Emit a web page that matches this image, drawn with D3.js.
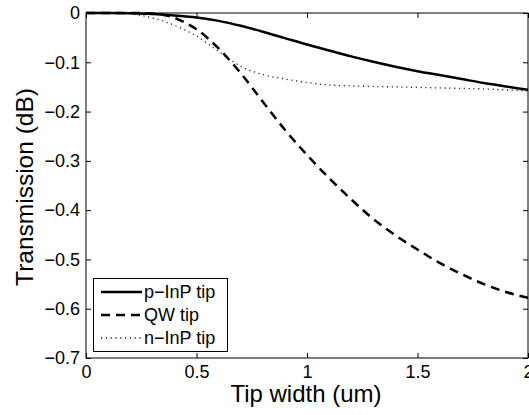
<!DOCTYPE html>
<html>
<head>
<meta charset="utf-8">
<script src="https://cdn.jsdelivr.net/npm/d3@7"></script>
<style>
  html, body { margin: 0; padding: 0; background: #fff; }
  svg { display: block; }
  text { font-family: "Liberation Sans", Arial, Helvetica, sans-serif; fill: #000; }
</style>
</head>
<body>
<svg id="chart" width="529" height="415"></svg>
<script>
const tipWidth = [0,0.1,0.2,0.3,0.4,0.5,0.6,0.7,0.8,0.9,1.0,1.1,1.2,1.3,1.4,1.5,1.6,1.7,1.8,1.9,2.0];
const pInP = [0,0,-0.0005,-0.002,-0.005,-0.009,-0.016,-0.026,-0.038,-0.051,-0.064,-0.076,-0.088,-0.099,-0.109,-0.118,-0.126,-0.134,-0.142,-0.149,-0.156];
const qw   = [0,0,0,-0.001,-0.010,-0.033,-0.072,-0.122,-0.180,-0.237,-0.288,-0.335,-0.378,-0.418,-0.451,-0.480,-0.507,-0.530,-0.550,-0.566,-0.578];
const nInP = [0,0,-0.002,-0.010,-0.025,-0.047,-0.078,-0.108,-0.125,-0.134,-0.141,-0.146,-0.148,-0.149,-0.150,-0.151,-0.152,-0.153,-0.154,-0.156,-0.158];
const seriesNames = ["p\u2212InP tip", "QW tip", "n\u2212InP tip"];
const xTicks = [0, 0.5, 1, 1.5, 2];
const xTickLabels = ["0", "0.5", "1", "1.5", "2"];
const yTicks = [0, -0.1, -0.2, -0.3, -0.4, -0.5, -0.6, -0.7];
const yTickLabels = ["0", "\u22120.1", "\u22120.2", "\u22120.3", "\u22120.4", "\u22120.5", "\u22120.6", "\u22120.7"];

const svg = d3.select("#chart");
const L = 86, R = 528, T = 13, B = 358;
const x = d3.scaleLinear().domain([0, 2]).range([L, R]);
const y = d3.scaleLinear().domain([-0.7, 0]).range([B, T]);

const styles = [
  { width: 2.5, dash: null, color: "#000" },
  { width: 2.5, dash: "9,6", color: "#000" },
  { width: 1.3, dash: "1.2,3.6", color: "#222" }
];
const allSeries = [pInP, qw, nInP];

svg.append("defs").append("clipPath").attr("id", "clip")
  .append("rect").attr("x", L).attr("y", T - 2).attr("width", R - L).attr("height", B - T + 2);

const line = d3.line().x((d, i) => x(tipWidth[i])).y(d => y(d)).curve(d3.curveMonotoneX);
const g = svg.append("g").attr("clip-path", "url(#clip)");
allSeries.forEach((s, k) => {
  g.append("path").datum(s)
    .attr("fill", "none")
    .attr("stroke", styles[k].color)
    .attr("stroke-width", styles[k].width)
    .attr("stroke-dasharray", styles[k].dash)
    .attr("d", line);
});

// axes
const fs = 18;
const xAxisB = d3.axisBottom(x).tickValues(xTicks).tickSize(-5).tickPadding(7).tickFormat((d, i) => xTickLabels[i]);
const xAxisT = d3.axisTop(x).tickValues(xTicks).tickSize(-5).tickFormat("");
const yAxisL = d3.axisLeft(y).tickValues(yTicks).tickSize(-5).tickPadding(6).tickFormat((d, i) => yTickLabels[i]);
const yAxisR = d3.axisRight(y).tickValues(yTicks).tickSize(-5).tickFormat("");

function styleAxis(sel) {
  sel.selectAll("path.domain").attr("stroke", "#000").attr("stroke-width", 1);
  sel.selectAll(".tick line").attr("stroke", "#000").attr("stroke-width", 1);
  sel.selectAll("text").attr("font-size", fs).style("font-family", '"Liberation Sans", Arial, sans-serif').attr("fill", "#000");
}
svg.append("g").attr("transform", `translate(0,${B})`).call(xAxisB).call(styleAxis);
svg.append("g").attr("transform", `translate(0,${T})`).call(xAxisT).call(styleAxis);
svg.append("g").attr("transform", `translate(${L},0)`).call(yAxisL).call(styleAxis);
svg.append("g").attr("transform", `translate(${R},0)`).call(yAxisR).call(styleAxis);
svg.selectAll(".domain").attr("d", null);
svg.append("rect").attr("x", L).attr("y", T).attr("width", R - L).attr("height", B - T)
  .attr("fill", "none").attr("stroke", "#000").attr("stroke-width", 1);

// labels
svg.append("text").attr("x", 306).attr("y", 402).attr("text-anchor", "middle")
  .attr("font-size", 24).text("Tip width (um)");
svg.append("text").attr("transform", `translate(33,${187}) rotate(-90)`).attr("text-anchor", "middle")
  .attr("font-size", 24.5).text("Transmission (dB)");

// legend
const lg = svg.append("g");
lg.append("rect").attr("x", 93.5).attr("y", 278.5).attr("width", 134).attr("height", 73)
  .attr("fill", "#fff").attr("stroke", "#000").attr("stroke-width", 1);
const rowsY = [292, 315, 338];
seriesNames.forEach((name, k) => {
  lg.append("line").attr("x1", 101).attr("x2", 142).attr("y1", rowsY[k]).attr("y2", rowsY[k])
    .attr("stroke", styles[k].color).attr("stroke-width", styles[k].width)
    .attr("stroke-dasharray", styles[k].dash);
  lg.append("text").attr("x", 144).attr("y", rowsY[k]).attr("dy", "0.35em")
    .attr("font-size", fs).text(name);
});
</script>
</body>
</html>
